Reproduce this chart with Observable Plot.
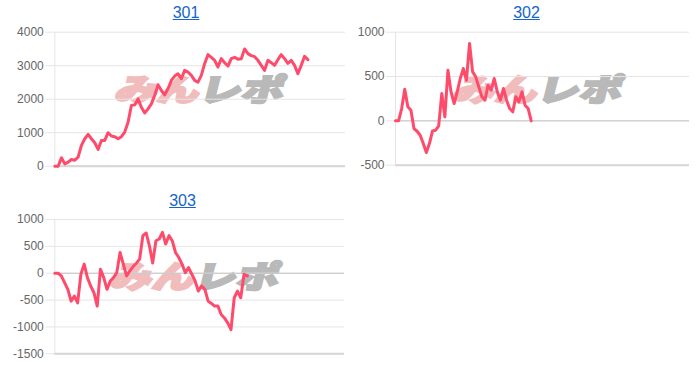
<!DOCTYPE html>
<html><head><meta charset="utf-8">
<script src="https://cdn.jsdelivr.net/npm/d3@7"></script>
<script src="https://cdn.jsdelivr.net/npm/@observablehq/plot@0.6"></script>
<style>
body{margin:0;background:#fff;font-family:"Liberation Sans",Arial,Helvetica,sans-serif;}
#root{position:relative;width:700px;height:368px;overflow:hidden;background:#fff;}
.abs{position:absolute;}
.title{position:absolute;color:#1565c8;text-decoration:underline;font-size:16px;line-height:16px;transform:translateX(-50%);white-space:nowrap;}
.wm{position:absolute;font-family:"Noto Sans CJK JP",sans-serif;font-weight:900;font-size:31px;line-height:1;white-space:nowrap;transform-origin:0 0;transform:skewX(-14deg) scaleX(1.36);}
.wm .a{color:#f1bcbc;-webkit-text-stroke:2.2px #f1bcbc;}
.wm .b{color:#b9b9b9;-webkit-text-stroke:2.2px #b9b9b9;}
</style>
</head><body>
<div id="root"></div>
<script>
// ---- data ----
const titles = ["301", "302", "303"];
const watermarkA = "みん";
const watermarkB = "レポ";

const values301 = [0, 0, 250, 70, 120, 200, 180, 270, 620, 820, 950, 820, 700, 500, 770, 770, 1000, 900, 880, 820,
  880, 1020, 1310, 1810, 1830, 2010, 1760, 1590, 1710, 1860, 2110, 2430, 2260, 2130, 2310, 2560, 2690, 2760, 2610, 2860,
  2810, 2710, 2560, 2510, 2710, 3060, 3330, 3250, 3160, 2960, 3210, 3090, 2990, 3210, 3250, 3190, 3210, 3500, 3360, 3300,
  3270, 3160, 3010, 2860, 3160, 3090, 3010, 3180, 3330, 3210, 3070, 3160, 3010, 2760, 3010, 3280, 3180];
const values302 = [0, 0, 139, 357, 158, 120, -87, -117, -162, -256, -358, -256, -113, -106, -56, 308, 45, 571, 327, 195,
  327, 478, 590, 458, 873, 553, 497, 384, 271, 233, 402, 346, 478, 327, 233, 365, 233, 139, 102, 271,
  214, 327, 176, 139, 0];
const values303 = [0, 0, -50, -176, -300, -519, -425, -551, -19, 169, -82, -238, -363, -612, 75, -82, -300, -144, -82, 11,
  386, 169, -50, 43, 124, 187, 262, 699, 749, 511, 190, 605, 637, 761, 543, 699, 605, 386, 292, 169,
  11, 105, -19, -144, -332, -238, -300, -519, -562, -612, -612, -768, -832, -925, -1049, -457, -332, -457, -19, -50];

const ticks301 = [0, 1000, 2000, 3000, 4000];
const ticks302 = [-500, 0, 500, 1000];
const ticks303 = [-1500, -1000, -500, 0, 500, 1000];

const domain301 = [0, 4000];
const domain302 = [-500, 1000];
const domain303 = [-1500, 1000];

const xMax301 = 87.3;
const xMax302 = 95.3;
const xMax303 = 88.8;

// ---- layout ----
const panels = [
  {title: titles[0], values: values301, ticks: ticks301, domain: domain301, xMax: xMax301,
   left: 0, top: 0, width: 350, height: 180, mL: 54.3, mR: 5, mT: 31.7, mB: 14.3,
   titleX: 186, titleY: 5, wmX: 121, wmY: 72},
  {title: titles[1], values: values302, ticks: ticks302, domain: domain302, xMax: xMax302,
   left: 350, top: 0, width: 350, height: 180, mL: 45, mR: 11, mT: 31.7, mB: 15.3,
   titleX: 526.5, titleY: 5, wmX: 459, wmY: 72},
  {title: titles[2], values: values303, ticks: ticks303, domain: domain303, xMax: xMax303,
   left: 0, top: 185, width: 350, height: 183, mL: 54.3, mR: 6, mT: 34, mB: 14.7,
   titleX: 182.5, titleY: 192.5, wmX: 116, wmY: 259}
];

const root = document.getElementById("root");

for (const p of panels) {
  const wm = document.createElement("div");
  wm.className = "wm";
  wm.style.left = p.wmX + "px";
  wm.style.top = p.wmY + "px";
  wm.innerHTML = `<span class="a">${watermarkA}</span><span class="b">${watermarkB}</span>`;
  root.appendChild(wm);
}

for (const p of panels) {
  const data = p.values.map((v, i) => ({i, v}));
  const chart = Plot.plot({
    width: p.width,
    height: p.height,
    marginLeft: p.mL,
    marginRight: p.mR,
    marginTop: p.mT,
    marginBottom: p.mB,
    style: {background: "transparent", fontFamily: "Liberation Sans, Arial, sans-serif", fontSize: "12px", overflow: "visible"},
    x: {domain: [0, p.xMax], axis: null},
    y: {domain: p.domain, label: null},
    marks: [
      Plot.gridY(p.ticks, {stroke: "#e5e5e5", strokeOpacity: 1}),
      Plot.ruleX([0], {stroke: "#e5e5e5"}),
      Plot.axisY(p.ticks, {anchor: "left", label: null, tickSize: 9, tickPadding: 2, stroke: "#e5e5e5", fill: "#666", fontSize: 12, tickFormat: d => String(d)}),
      Plot.ruleY([0], {stroke: "#c4c4c4"}),
      Plot.ruleY([p.domain[0]], {stroke: "#d6d6d6", strokeWidth: 2}),
      Plot.line(data, {x: "i", y: "v", stroke: "#ff4b6b", strokeWidth: 3, strokeLinejoin: "round", strokeLinecap: "round"})
    ]
  });
  const holder = document.createElement("div");
  holder.className = "abs";
  holder.style.left = p.left + "px";
  holder.style.top = p.top + "px";
  holder.appendChild(chart);
  root.appendChild(holder);

  const t = document.createElement("a");
  t.className = "title";
  t.textContent = p.title;
  t.style.left = p.titleX + "px";
  t.style.top = p.titleY + "px";
  root.appendChild(t);
}
</script>
</body></html>
